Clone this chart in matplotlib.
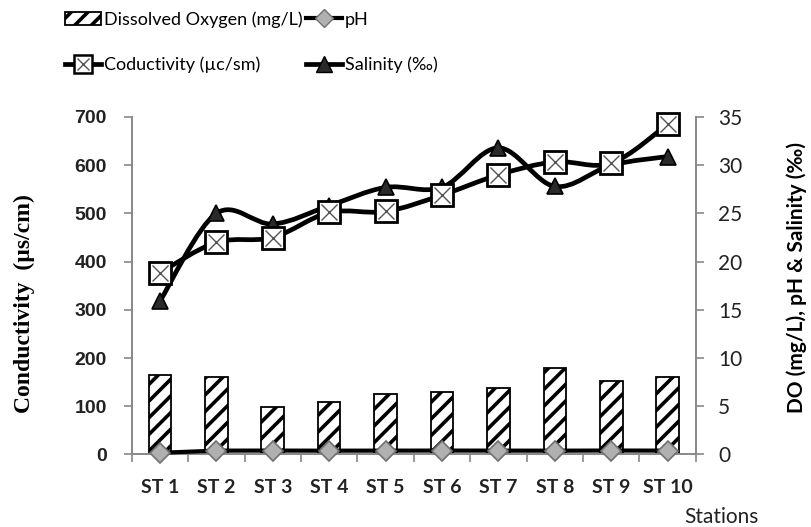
import matplotlib
matplotlib.use("Agg")
import matplotlib.pyplot as plt
from matplotlib.path import Path
from matplotlib.patches import PathPatch, Patch
from matplotlib.lines import Line2D
from matplotlib.legend_handler import HandlerTuple
import numpy as np

stations = ["ST 1", "ST 2", "ST 3", "ST 4", "ST 5", "ST 6", "ST 7", "ST 8", "ST 9", "ST 10"]
dissolved_oxygen = [8.2, 8.0, 4.9, 5.45, 6.25, 6.45, 6.86, 9.0, 7.66, 8.04]
ph = [3.5, 8.0, 8.1, 7.9, 8.0, 8.1, 8.0, 7.9, 8.2, 8.0]
conductivity = [377, 440, 450, 502, 504, 538, 580, 607, 604, 685]
salinity = [15.9, 25.0, 23.9, 25.8, 27.7, 27.7, 31.8, 27.8, 30.0, 30.9]

plt.rcParams['hatch.linewidth'] = 2.6

fig = plt.figure(figsize=(8.11, 5.27), dpi=100)
ax = fig.add_axes([0.1624, 0.1376, 0.6956, 0.6404])
ax2 = ax.twinx()
ax.set_zorder(ax2.get_zorder() + 1)
ax.patch.set_visible(False)

x = np.arange(len(stations))


def smooth_path(xs, ys):
    pts = np.column_stack([xs, ys]).astype(float)
    n = len(pts)
    verts = [pts[0]]
    codes = [Path.MOVETO]
    for i in range(n - 1):
        p0 = pts[i - 1] if i > 0 else pts[i]
        p1 = pts[i]
        p2 = pts[i + 1]
        p3 = pts[i + 2] if i + 2 < n else pts[i + 1]
        c1 = p1 + (p2 - p0) / 6.0
        c2 = p2 - (p3 - p1) / 6.0
        verts += [c1, c2, p2]
        codes += [Path.CURVE4] * 3
    return Path(verts, codes)


# DO bars (right axis)
ax2.bar(x, dissolved_oxygen, width=0.4, color='white', edgecolor='black',
        hatch='//', linewidth=1.3, zorder=1)

# Salinity (right axis)
ax2.add_patch(PathPatch(smooth_path(x, salinity), fill=False, lw=3.4,
                        edgecolor='black', zorder=3, capstyle='round'))
ax2.plot(x, salinity, ls='none', marker='^', ms=12, mfc='#2a2a2a',
         mec='black', mew=1.2, zorder=4, clip_on=False)

# Conductivity (left axis)
ax.add_patch(PathPatch(smooth_path(x, conductivity), fill=False, lw=3.4,
                       edgecolor='black', zorder=3, capstyle='round'))
ax.plot(x, conductivity, ls='none', marker='s', ms=16, mfc='white',
        mec='black', mew=2.0, zorder=4, clip_on=False)
ax.plot(x, conductivity, ls='none', marker='x', ms=11, mec='#555555',
        mew=1.0, zorder=5, clip_on=False)

# pH (left axis)
ax.plot(x, ph, color='black', lw=3, zorder=6, clip_on=False)
ax.plot(x, ph, ls='none', marker='D', ms=10, mfc='#b0b0b0',
        mec='#707070', mew=1.2, zorder=7, clip_on=False)

ax.set_xlim(-0.5, len(stations) - 0.5)
ax.set_ylim(0, 700)
ax2.set_ylim(0, 35)
ax.set_yticks(np.arange(0, 701, 100))
ax2.set_yticks(np.arange(0, 36, 5))
ax.set_xticks(x)
ax.set_xticklabels(stations, fontfamily='Lato', fontweight='bold', fontsize=14,
                   color='#222222')
ax.set_xticks(np.arange(-0.5, len(stations), 1.0), minor=True)
ax.tick_params(axis='x', which='major', length=0, pad=18)
ax.tick_params(axis='x', which='minor', length=6, color='#888888', width=1.2, direction='out')
ax.tick_params(axis='y', length=6, color='#888888', width=1.2, direction='out', pad=12)
ax2.tick_params(axis='y', length=6, color='#888888', width=1.2, direction='out', pad=10)

for lab in ax.get_yticklabels():
    lab.set_fontfamily('Liberation Sans')
    lab.set_fontweight('bold')
    lab.set_fontsize(14)
    lab.set_color('#222222')
for lab in ax2.get_yticklabels():
    lab.set_fontfamily('Lato')
    lab.set_fontsize(15)
    lab.set_color('#222222')

for a in (ax, ax2):
    a.spines['top'].set_visible(False)
    for s in ('left', 'right', 'bottom'):
        a.spines[s].set_color('#888888')
        a.spines[s].set_linewidth(1.2)

ax.set_ylabel("Conductivity  (\u00b5s/cm)", fontfamily='Liberation Serif',
              fontweight='bold', fontsize=17, va='center')
ax.yaxis.set_label_coords(-0.191, 0.446)
ax2.set_ylabel("DO (mg/L), pH & Salinity (\u2030)", fontfamily='Lato',
               fontweight='bold', fontsize=15, va='center', rotation=90)
ax2.yaxis.set_label_coords(1.178, 0.523)
fig.text(721 / 811, 1 - 517 / 527, "Stations", fontfamily='Lato', fontsize=15,
         ha='center', va='center', color='#222222')

# Legend
h_do = Patch(facecolor='white', edgecolor='black', hatch='//', lw=1.3)
h_ph1 = Line2D([], [], color='black', lw=3)
h_ph2 = Line2D([], [], ls='none', marker='D', ms=9, mfc='#b0b0b0', mec='#707070')
h_c1 = Line2D([], [], color='black', lw=3.4, marker='s', ms=13, mfc='white', mec='black', mew=1.8)
h_c2 = Line2D([], [], ls='none', marker='x', ms=8, mec='#555555', mew=1.0)
h_s = Line2D([], [], color='black', lw=3.4, marker='^', ms=11, mfc='#2a2a2a', mec='black')

leg = fig.legend([h_do, (h_c1, h_c2), (h_ph1, h_ph2), h_s],
                 ["Dissolved Oxygen (mg/L)", "Coductivity (\u00b5c/sm)", "pH", "Salinity (\u2030)"],
                 handler_map={tuple: HandlerTuple(ndivide=1, pad=0)},
                 loc='upper left', bbox_to_anchor=(56 / 811, 1 - 2 / 527), ncol=2,
                 frameon=False,
                 prop={'family': 'Lato', 'size': 13},
                 handlelength=2.0, handletextpad=0.15, columnspacing=0.2,
                 labelspacing=1.62, borderaxespad=0.1)

fig.savefig("out.png", dpi=100)
